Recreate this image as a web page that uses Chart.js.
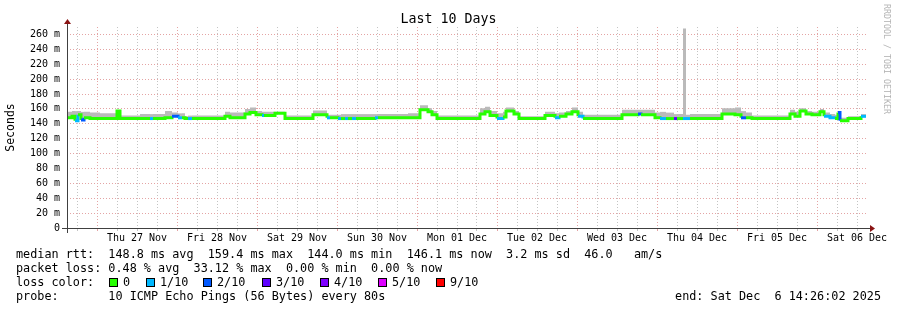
<!DOCTYPE html>
<html>
<head>
<meta charset="utf-8">
<title>Last 10 Days</title>
<script src="https://cdn.jsdelivr.net/npm/chart.js@4.4.1/dist/chart.umd.min.js"></script>
<style>
    body { margin: 0; background: #fff; }
    #wrap { position: relative; width: 897px; height: 310px; overflow: hidden; font-family: 'DejaVu Sans Mono', monospace; color: #000; }
    #chart { position: absolute; left: 0; top: 0; }
    .txt { position: absolute; white-space: pre; font-size: 11.8px; line-height: 14px; }
    #title { position: absolute; left: 0; width: 897px; top: 11px; text-align: center; font-size: 13.3px; line-height: 16px; }
    #mark { position: absolute; left: 892px; top: 4px; transform: rotate(90deg); transform-origin: left top; font-size: 8.3px; line-height: 10px; color: #b4b4b4; white-space: pre; }
    .box { position: absolute; width: 9px; height: 9px; box-sizing: border-box; border: 1px solid #000; }
</style>
</head>
<body>
<div id="wrap">
    <canvas id="chart" width="897" height="310"></canvas>
    <div id="title"></div>
    <div id="mark">RRDTOOL / TOBI OETIKER</div>
    <div id="legend"></div>
</div>
<script>
// Chart data
const TITLE = 'Last 10 Days';
const DAY_LABELS = ['Thu 27 Nov', 'Fri 28 Nov', 'Sat 29 Nov', 'Sun 30 Nov', 'Mon 01 Dec',
                    'Tue 02 Dec', 'Wed 03 Dec', 'Thu 04 Dec', 'Fri 05 Dec', 'Sat 06 Dec'];
const FIRST_MIDNIGHT = 9;   // hours after the left edge of the graph
const SPAN_HOURS = 240;

// hours since graph start where the value changes
const TIMES = [0, 1.5, 2.4, 3.3, 4.2, 5.1, 6.9, 9.9, 15, 15.9,
               21.9, 24.9, 25.8, 29.4, 31.5, 33.3, 34.5, 35.4, 36.3, 37.5,
               47.4, 48.9, 53.4, 54.9, 56.7, 58.5, 59.1, 62.4, 65.4, 73.8,
               78, 78.9, 81.3, 82.2, 83.4, 84.3, 85.5, 86.7, 92.4, 93.3,
               102.3, 105.9, 108.3, 109.5, 111, 123.9, 125.4, 126.9, 129, 130.8,
               131.7, 134.1, 135.6, 143.4, 146.4, 147.6, 149.7, 151.5, 153.3, 154.8,
               166.5, 171.3, 172.2, 176.4, 177.9, 179.7, 182.1, 183, 184.8, 185.7,
               186.9, 196.5, 200.4, 202.2, 203.7, 205.5, 216.9, 218.4, 219.9, 221.7,
               223.5, 225.9, 227.1, 228.9, 230.4, 231.3, 231.9, 234.3, 238.2, 239.7];
// median rtt, ms
const MEDIAN = [148, 150, 144, 152, 145, 148, 147, 147, 157, 147,
                147, 147, 147, 148, 150, 148, 148, 147, 147, 147,
                150, 148, 153, 155, 152, 151, 151, 154, 147, 152,
                148, 148, 147, 147, 147, 147, 147, 147, 148, 148,
                148, 159, 156, 152, 147, 153, 156, 151, 147, 149,
                157, 153, 147, 151, 148, 150, 153, 156, 150, 147,
                152, 153, 152, 148, 147, 147, 147, 147, 147, 147,
                147, 153, 152, 148, 148, 147, 153, 150, 157, 153,
                152, 156, 150, 148, 147, 155, 144, 147, 150, 150];
// top of the smoke (slowest ping), ms
const SMOKE_MAX = [156, 157, 157, 157, 156, 156, 155, 154, 158, 151,
                   153, 153, 153, 157, 155, 154, 154, 150, 151, 151,
                   156, 155, 160, 162, 157, 156, 156, 156, 151, 158,
                   152, 152, 152, 153, 153, 153, 153, 153, 153, 153,
                   154, 165, 161, 157, 151, 161, 163, 157, 154, 156,
                   162, 157, 150, 156, 154, 155, 157, 162, 156, 152,
                   159, 159, 159, 155, 156, 155, 153, 153, 268, 152,
                   153, 161, 162, 157, 155, 151, 159, 156, 161, 157,
                   156, 160, 155, 153, 152, 157, 148, 150, 153, 153];
// packet loss, tenths
const LOSS = [0, 0, 1, 0, 2, 0, 0, 0, 0, 0,
              0, 1, 0, 0, 2, 1, 0, 0, 1, 0,
              0, 0, 0, 0, 0, 1, 0, 0, 0, 0,
              1, 0, 1, 0, 1, 0, 1, 0, 1, 0,
              0, 0, 0, 0, 0, 0, 0, 0, 1, 0,
              0, 0, 0, 0, 1, 0, 0, 0, 1, 0,
              0, 2, 0, 0, 1, 0, 3, 0, 1, 1,
              0, 0, 0, 2, 0, 0, 0, 0, 0, 0,
              0, 0, 1, 1, 0, 2, 0, 0, 1, 1];

const LOSS_COLORS = { 0: '#26ff00', 1: '#00b8ff', 2: '#0059ff', 3: '#5e00ff', 4: '#7e00ff', 5: '#dd00ff', 9: '#ff0000' };
const LOSS_LEGEND = ['0', '1/10', '2/10', '3/10', '4/10', '5/10', '9/10'];
const LOSS_LEGEND_KEYS = [0, 1, 2, 3, 4, 5, 9];

const STATS_LINES = [
    'median rtt:  148.8 ms avg  159.4 ms max  144.0 ms min  146.1 ms now  3.2 ms sd  46.0   am/s',
    'packet loss: 0.48 % avg  33.12 % max  0.00 % min  0.00 % now',
    'loss color:',
    'probe:       10 ICMP Echo Pings (56 Bytes) every 80s'
];
const END_TEXT = 'end: Sat Dec  6 14:26:02 2025';

// Colours
const GRID_MAJOR = '#e4a4a4';
const GRID_MINOR = '#c4c4c4';
const SMOKE = '#bababa';
const AXIS = '#404040';
const ARROW = '#8a1414';
const FONT = "'DejaVu Sans Mono', monospace";

// Text parts
document.getElementById('title').textContent = TITLE;
buildLegend();

function buildLegend() {
    const legend = document.getElementById('legend');
    STATS_LINES.forEach((line, i) => {
        const el = document.createElement('div');
        el.className = 'txt';
        el.style.left = '16px';
        el.style.top = (247 + i * 14) + 'px';
        el.textContent = line;
        legend.appendChild(el);
    });
    const end = document.createElement('div');
    end.className = 'txt';
    end.style.right = (897 - 881) + 'px';
    end.style.top = (247 + 3 * 14) + 'px';
    end.textContent = END_TEXT;
    legend.appendChild(end);

    const boxX = [109, 146, 203, 262, 320, 378, 436];
    LOSS_LEGEND.forEach((label, i) => {
        const box = document.createElement('div');
        box.className = 'box';
        box.style.left = boxX[i] + 'px';
        box.style.top = '278px';
        box.style.background = LOSS_COLORS[LOSS_LEGEND_KEYS[i]];
        legend.appendChild(box);
        const t = document.createElement('div');
        t.className = 'txt';
        t.style.left = (boxX[i] + 14) + 'px';
        t.style.top = (247 + 2 * 14) + 'px';
        t.textContent = label;
        legend.appendChild(t);
    });
}

// Axis lines with arrows, drawn on top like rrdtool does
const axesPlugin = {
    id: 'rrdAxes',
    afterDraw(chart) {
        const ctx = chart.ctx;
        const a = chart.chartArea;
        const y0 = Math.round(a.bottom) + 0.5;
        const x0 = Math.round(a.left) + 0.5;
        ctx.save();
        ctx.strokeStyle = AXIS;
        ctx.lineWidth = 1;
        ctx.beginPath();
        ctx.moveTo(a.left - 5, y0);
        ctx.lineTo(a.right + 3, y0);
        ctx.moveTo(x0, a.bottom + 5);
        ctx.lineTo(x0, a.top - 4);
        ctx.stroke();
        ctx.fillStyle = ARROW;
        ctx.beginPath();
        ctx.moveTo(a.right + 3, y0 - 3.5);
        ctx.lineTo(a.right + 8, y0);
        ctx.lineTo(a.right + 3, y0 + 3.5);
        ctx.closePath();
        ctx.fill();
        ctx.beginPath();
        ctx.moveTo(x0 - 3.5, a.top - 3);
        ctx.lineTo(x0, a.top - 8);
        ctx.lineTo(x0 + 3.5, a.top - 3);
        ctx.closePath();
        ctx.fill();
        ctx.restore();
    }
};

function isMidnight(h) {
    return (h - FIRST_MIDNIGHT) % 24 === 0;
}

const medianPoints = TIMES.map((t, i) => ({ x: t, y: MEDIAN[i] }));
const smokePoints = TIMES.map((t, i) => ({ x: t, y: SMOKE_MAX[i] }));

const chart = new Chart(document.getElementById('chart').getContext('2d'), {
    type: 'line',
    data: {
        datasets: [
            {
                label: 'median rtt',
                data: medianPoints,
                stepped: 'before',
                borderWidth: 3,
                borderCapStyle: 'butt',
                pointRadius: 0,
                fill: false,
                borderColor: LOSS_COLORS[0],
                segment: {
                    borderColor: ctx => LOSS_COLORS[LOSS[ctx.p0DataIndex]]
                }
            },
            {
                label: 'smoke',
                data: smokePoints,
                stepped: 'before',
                borderWidth: 0,
                pointRadius: 0,
                backgroundColor: SMOKE,
                fill: 0
            }
        ]
    },
    options: {
        responsive: false,
        animation: false,
        devicePixelRatio: 1,
        layout: { padding: { left: 0, right: 30, top: 27, bottom: 0 } },
        plugins: {
            legend: { display: false },
            tooltip: { enabled: false }
        },
        scales: {
            x: {
                type: 'linear',
                min: 0,
                max: SPAN_HOURS,
                afterBuildTicks: scale => {
                    const ticks = [];
                    for (let h = FIRST_MIDNIGHT - 6; h < SPAN_HOURS; h += 6) ticks.push({ value: h });
                    scale.ticks = ticks;
                },
                afterFit: scale => { scale.height = 82; },
                border: { display: false, dash: [1, 2] },
                grid: {
                    color: ctx => isMidnight(ctx.tick.value) ? GRID_MAJOR : GRID_MINOR,
                    tickColor: ctx => isMidnight(ctx.tick.value) ? GRID_MAJOR : GRID_MINOR,
                    tickLength: 3,
                    drawTicks: true
                },
                ticks: {
                    autoSkip: false,
                    maxRotation: 0,
                    padding: 1,
                    color: '#000',
                    font: { family: FONT, size: 10 },
                    callback: value => {
                        const rel = value - FIRST_MIDNIGHT - 12;
                        return rel >= 0 && rel % 24 === 0 ? DAY_LABELS[rel / 24] : '';
                    }
                }
            },
            y: {
                min: 0,
                max: 270,
                afterFit: scale => { scale.width = 67; },
                border: { display: false, dash: [1, 2] },
                grid: {
                    drawTicks: false,
                    color: ctx => {
                        const v = ctx.tick.value;
                        if (v === 0 || v === 270) return 'rgba(0,0,0,0)';
                        return v % 20 === 0 ? GRID_MAJOR : GRID_MINOR;
                    }
                },
                ticks: {
                    stepSize: 10,
                    padding: 7,
                    color: '#000',
                    font: { family: FONT, size: 10 },
                    callback: value => {
                        if (value === 0) return '0';
                        return value % 20 === 0 && value < 270 ? value + ' m' : '';
                    }
                },
                title: {
                    display: true,
                    text: 'Seconds',
                    color: '#000',
                    padding: { top: 4, bottom: 0 },
                    font: { family: FONT, size: 11.5 }
                }
            }
        }
    },
    plugins: [axesPlugin]
});
</script>
</body>
</html>
